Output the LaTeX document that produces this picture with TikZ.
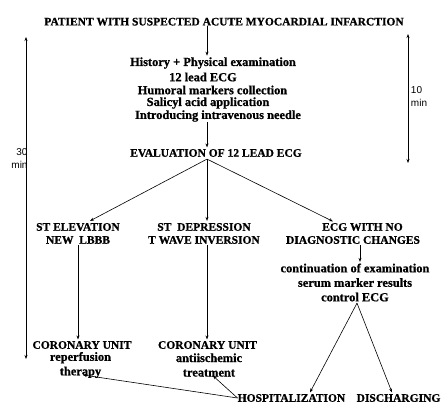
\documentclass[tikz,border=0pt]{standalone}
\usepackage{fontspec}
\setmainfont{Liberation Serif}[BoldFeatures={FakeBold=0.8}]
\newfontfamily\labfont{Liberation Sans}
\usetikzlibrary{arrows.meta}
\begin{document}
\begin{tikzpicture}[x=1pt,y=1pt,
  capt/.style={font=\fontsize{11.5}{13}\selectfont\bfseries, inner sep=0pt, align=center},
  lowt/.style={font=\fontsize{12.4}{14.5}\selectfont\bfseries, inner sep=0pt, align=center},
  timet/.style={font=\fontsize{10}{13}\selectfont\labfont, inner sep=0pt, align=right},
  arr/.style={line width=0.6pt, -{Stealth[length=4pt,width=3pt]}},
  darr/.style={line width=0.6pt, {Stealth[length=4pt,width=3pt]}-{Stealth[length=4pt,width=3pt]}},
  ln/.style={line width=0.6pt}]
\useasboundingbox[fill=white] (0,0) rectangle (441,-405);

\node[capt] (title) at (224,-21.7) {PATIENT WITH SUSPECTED ACUTE MYOCARDIAL INFARCTION};

\node[lowt] (h1) at (213,-63) {History + Physical examination};
\node[lowt] (h2) at (203,-77) {12 lead ECG};
\node[lowt] (h3) at (212.5,-90) {Humoral markers collection};
\node[lowt] (h4) at (208,-103) {Salicyl acid application};
\node[lowt] (h5) at (218,-116) {Introducing intravenous needle};

\node[capt] (eval) at (216,-153) {EVALUATION OF 12 LEAD ECG};

\node[capt] (stel) at (78,-233.5) {ST ELEVATION\\NEW\ \ LBBB};
\node[capt] (stdep) at (204,-233.5) {ST\ \ DEPRESSION\\T WAVE INVERSION};
\node[capt] (ecg1) at (362.5,-227) {ECG WITH NO};
\node[capt] (ecg2) at (353,-240) {DIAGNOSTIC CHANGES};

\node[lowt] (cont) at (355,-282.5) {continuation of examination\\serum marker results\\control ECG};

\node[capt] (cu1) at (82,-345) {CORONARY UNIT};
\node[lowt] (cu1b) at (80.5,-365) {reperfusion\\therapy};
\node[capt] (cu2) at (207.5,-345) {CORONARY UNIT};
\node[lowt] (cu2b) at (209,-365) {antiischemic\\treatment};

\node[capt] (hosp) at (291.5,-398) {HOSPITALIZATION};
\node[capt] (disch) at (398.5,-398) {DISCHARGING};

\node[timet] (t30) at (19.5,-158.5) {30\\min};
\node[timet, align=left] (t10) at (419,-96.5) {10\\min};

% connectors
\draw[arr] ([xshift=-17pt]title.south) -- ([xshift=-6pt,yshift=1.5pt]h1.north);
\draw[arr] ([xshift=-11pt]h5.south) -- ([xshift=-9pt,yshift=1.5pt]eval.north);
\coordinate (ev) at ([xshift=-9pt,yshift=-2pt]eval.south);
\draw[arr] (ev) -- ([xshift=12pt,yshift=2pt]stel.north);
\draw[arr] (ev) -- ([xshift=3pt,yshift=2pt]stdep.north);
\draw[arr] (ev) -- ([xshift=-29.5pt,yshift=1.5pt]ecg1.north);
\draw[ln] ([yshift=-1pt]stel.south) -- ([xshift=-4pt,yshift=5pt]cu1.north);
\draw[arr] ([xshift=-4pt,yshift=5pt]cu1.north) -- ([xshift=-4pt,yshift=1.5pt]cu1.north);
\draw[arr] ([xshift=3pt,yshift=-1pt]stdep.south) -- ([xshift=-0.5pt,yshift=1.5pt]cu2.north);
\draw[arr] ([xshift=7pt,yshift=-1pt]ecg2.south) -- ([xshift=5pt,yshift=1.5pt]cont.north);
\coordinate (ce) at ([xshift=2pt,yshift=-1.5pt]cont.south);
\draw[arr] (ce) -- ([xshift=18.5pt,yshift=1.5pt]hosp.north);
\draw[arr] (ce) -- ([xshift=-6.5pt,yshift=1.5pt]disch.north);
\draw[arr] (hosp.west) -- ([xshift=2.5pt,yshift=-10pt]cu1b.center);
\draw[arr] (hosp.west) -- ([xshift=4pt,yshift=1pt]cu2b.south);
\coordinate (la) at (26,-37);
\coordinate (lb) at (26,-359);
\draw[darr] (la) -- (lb);
\coordinate (ra) at (408,-34);
\coordinate (rb) at (408,-163);
\draw[darr] (ra) -- (rb);
\end{tikzpicture}
\end{document}
